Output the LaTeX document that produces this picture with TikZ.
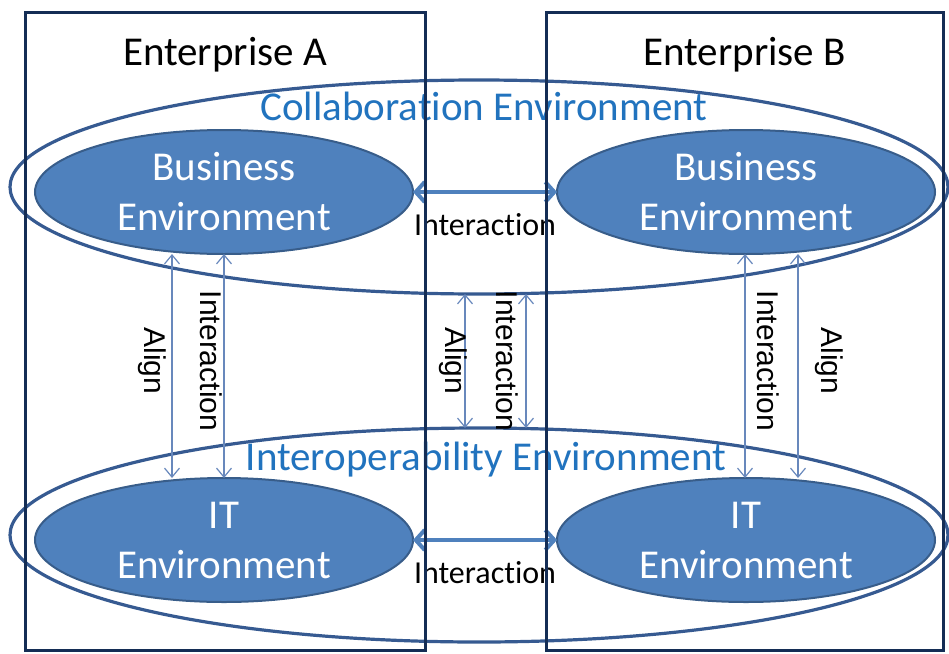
\documentclass[tikz,border=0pt]{standalone}
\usepackage{fontspec}
\setmainfont[Ligatures={NoCommon}]{Carlito}
\newfontfamily\arialfont{Liberation Sans}
\usetikzlibrary{shapes.geometric,arrows.meta}

\definecolor{boxnavy}{RGB}{20,45,85}
\definecolor{envline}{RGB}{54,90,145}
\definecolor{envfill}{RGB}{79,129,189}
\definecolor{envborder}{RGB}{56,93,138}
\definecolor{linkblue}{RGB}{79,129,189}
\definecolor{alignblue}{RGB}{104,136,188}
\definecolor{titleblue}{RGB}{33,115,190}

\tikzset{
  enterprise/.style={draw=boxnavy, line width=3pt, minimum width=400pt, minimum height=638pt, inner sep=0pt, outer sep=0pt},
  outerenv/.style={ellipse, draw=envline, line width=3.2pt, minimum width=938pt, minimum height=214pt, inner sep=0pt, outer sep=0pt},
  innerenv/.style={ellipse, fill=envfill, draw=envborder, line width=2pt, minimum width=378pt, minimum height=124pt,
    inner sep=0pt, outer sep=0pt, text=white, align=center, font=\fontsize{41}{50}\selectfont},
  bigtitle/.style={anchor=base, font=\fontsize{41}{50}\selectfont},
  envtitle/.style={anchor=base, text=titleblue, font=\fontsize{41}{50}\selectfont},
  hlabel/.style={anchor=base, font=\fontsize{32}{38}\selectfont},
  vlabel/.style={rotate=-90, inner sep=0pt, font=\arialfont\fontsize{30}{36}\selectfont},
  linkarrow/.style={{Straight Barb[length=9pt,width=20pt]}-{Straight Barb[length=9pt,width=20pt]}, draw=linkblue, line width=4pt},
  alignarrow/.style={{Straight Barb[length=9pt,width=15pt]}-{Straight Barb[length=9pt,width=15pt]}, draw=alignblue, line width=1.2pt}
}

\begin{document}
\begin{tikzpicture}[x=1pt, y=-1pt]
\useasboundingbox (0,0) rectangle (949,653);

\node[outerenv] (collab) at (479,187) {};
\node[outerenv] (interop) at (479,535) {};
\node[envtitle] (collabT) at (484,120) {Collaboration Environment};
\node[envtitle] (interopT) at (486,470) {Interoperability Environment};

\node[innerenv] (busA) at (224,192) {Business\\Environment};
\node[innerenv] (busB) at (746,192) {Business\\Environment};
\node[innerenv] (itA) at (224,540) {IT\\Environment};
\node[innerenv] (itB) at (746,540) {IT\\Environment};

\draw[linkarrow] (busA.east) -- node[hlabel, yshift=-43pt, text=black] {Interaction} (busB.west);
\draw[linkarrow] (itA.east) -- node[hlabel, yshift=-43pt, text=black] {Interaction} (itB.west);

\draw[alignarrow] ([xshift=-52pt]busA.south) -- node[xshift=-19.5pt, yshift=5pt, vlabel] {Align} ([xshift=-52pt]itA.north);
\draw[alignarrow] (busA.south) -- node[xshift=-13pt, yshift=5pt, vlabel] {Interaction} (itA.north);
\draw[alignarrow] ([xshift=-14pt]collab.south) -- node[xshift=-12pt, vlabel] {Align} ([xshift=-14pt]interop.north);
\draw[alignarrow] ([xshift=47pt]collab.south) -- node[xshift=-19pt, vlabel] {Interaction} ([xshift=47pt]interop.north);
\draw[alignarrow] ([xshift=-1pt]busB.south) -- node[xshift=23.5pt, yshift=5pt, vlabel] {Interaction} ([xshift=-1pt]itB.north);
\draw[alignarrow] ([xshift=52pt]busB.south) -- node[xshift=31pt, yshift=5pt, vlabel] {Align} ([xshift=52pt]itB.north);

\node[enterprise] (entA) at (225,331) {};
\node[enterprise, minimum width=397pt] (entB) at (744.5,331) {};
\node[bigtitle] (titleA) at (225,65) {Enterprise A};
\node[bigtitle] (titleB) at (744.5,65) {Enterprise B};
\end{tikzpicture}
\end{document}
